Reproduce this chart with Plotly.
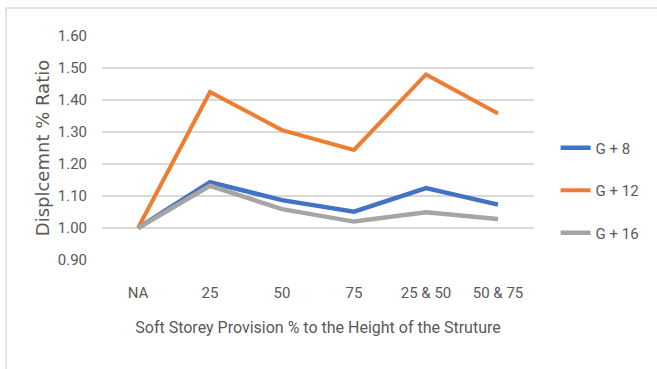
import plotly.graph_objects as go

categories = ["NA", "25", "50", "75", "25 & 50", "50 & 75"]
series_names = ["G + 8", "G + 12", "G + 16"]
g8 = [1.00, 1.143, 1.087, 1.051, 1.125, 1.073]
g12 = [1.00, 1.425, 1.306, 1.244, 1.480, 1.358]
g16 = [1.00, 1.132, 1.059, 1.020, 1.049, 1.028]
colors = ["#4472C4", "#ED7D31", "#A5A5A5"]
widths = [4.5, 4, 4.5]
y_ticks = [0.9, 1.0, 1.1, 1.2, 1.3, 1.4, 1.5, 1.6]

NARROW = "Liberation Sans Narrow, Roboto, sans-serif"
TICK_FONT = dict(family=NARROW, size=15, color="#595959")

fig = go.Figure()
for name, vals, col, w in zip(series_names, [g8, g12, g16], colors, widths):
    fig.add_trace(go.Scatter(
        x=categories, y=vals, mode="lines", name=name,
        line=dict(color=col, width=w), legendgroup=name,
    ))

fig.update_layout(
    width=657, height=369,
    paper_bgcolor="white", plot_bgcolor="white",
    margin=dict(l=102, r=123, t=36, b=109),
    xaxis=dict(
        type="category", range=[-0.5, 5.5], showgrid=False, zeroline=False,
        showline=False, ticks="", tickfont=TICK_FONT, ticklabelstandoff=22,
        title=dict(text="Soft Storey Provision % to the Height of the Struture",
                   font=dict(family=NARROW, size=16, color="#595959"),
                   standoff=20),
    ),
    yaxis=dict(
        range=[0.9, 1.6], tickvals=y_ticks, tickformat=".2f",
        showgrid=True, gridcolor="#D9D9D9", gridwidth=1.5, zeroline=False,
        showline=False, ticks="", tickfont=TICK_FONT, ticklabelstandoff=14,
        title=dict(text="Displcemnt % Ratio",
                   font=dict(family="DejaVu Sans, sans-serif", size=18, color="#595959"),
                   standoff=3),
    ),
    legend=dict(
        x=1.05, y=0.31, xanchor="left", yanchor="middle",
        font=dict(family=NARROW, size=15, color="#595959"),
        tracegroupgap=20, itemwidth=30, bgcolor="rgba(0,0,0,0)",
    ),
    shapes=[dict(type="rect", xref="paper", yref="paper",
                 x0=-0.222, x1=1.5, y0=-1.0, y1=1.125,
                 line=dict(color="#D9D9D9", width=1.5), layer="below")],
)

fig.write_html("out.html")
